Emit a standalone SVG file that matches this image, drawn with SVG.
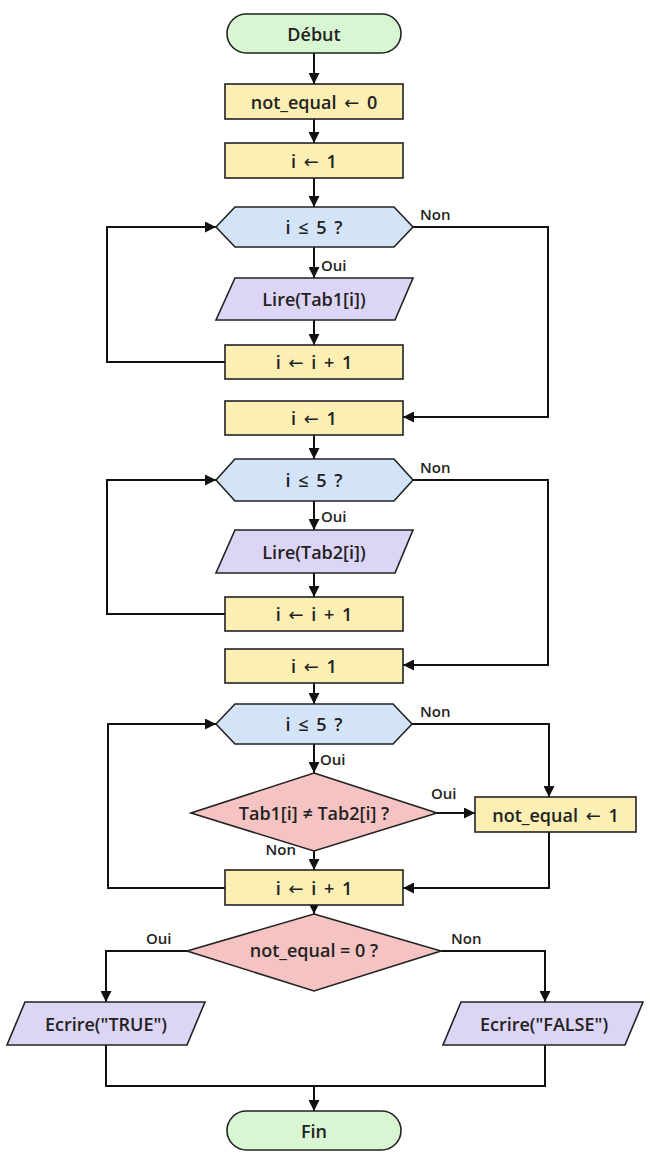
<svg xmlns="http://www.w3.org/2000/svg" width="650" height="1161" viewBox="0 0 650 1161">
<defs>
<marker id="arr" markerWidth="11" markerHeight="11" refX="11" refY="5.5" orient="auto" markerUnits="userSpaceOnUse">
<path d="M0,0 L11,5.5 L0,11 z" fill="#111"/>
</marker>
<style>
.term{fill:#d8f6d2;stroke:#222;stroke-width:1.6}
.proc{fill:#fbefb4;stroke:#222;stroke-width:1.6}
.loop{fill:#d3e4f8;stroke:#222;stroke-width:1.6}
.io{fill:#ddd5f6;stroke:#222;stroke-width:1.6}
.dec{fill:#f6c3c3;stroke:#222;stroke-width:1.6}
.t{font-family:"Open Sans","Liberation Sans",sans-serif;font-weight:600;font-size:18px;fill:#222;text-anchor:middle;dominant-baseline:central}
.w{word-spacing:3px}
.a{font-family:"DejaVu Sans",sans-serif;font-weight:normal}
.lbl{font-family:"Open Sans","Liberation Sans",sans-serif;font-weight:600;font-size:15px;fill:#222;dominant-baseline:central}
.c{fill:none;stroke:#111;stroke-width:2}
</style>
</defs>
<rect width="650" height="1161" fill="#ffffff"/>
<g id="connectors">
<path class="c" d="M314,53 V84" marker-end="url(#arr)"/>
<path class="c" d="M314,119 V143" marker-end="url(#arr)"/>
<path class="c" d="M314,178 V207" marker-end="url(#arr)"/>
<path class="c" d="M314,247 V278" marker-end="url(#arr)"/>
<path class="c" d="M314,320 V345" marker-end="url(#arr)"/>
<path class="c" d="M225,362 H107 V227 H216" marker-end="url(#arr)"/>
<path class="c" d="M413,227 H548 V417 H403" marker-end="url(#arr)"/>
<path class="c" d="M314,435 V459" marker-end="url(#arr)"/>
<path class="c" d="M314,501 V530" marker-end="url(#arr)"/>
<path class="c" d="M314,573 V597" marker-end="url(#arr)"/>
<path class="c" d="M225,614 H107 V480 H216" marker-end="url(#arr)"/>
<path class="c" d="M413,480 H548 V665 H403" marker-end="url(#arr)"/>
<path class="c" d="M314,683 V704" marker-end="url(#arr)"/>
<path class="c" d="M314,744 V773" marker-end="url(#arr)"/>
<path class="c" d="M412,724 H549 V797" marker-end="url(#arr)"/>
<path class="c" d="M437,813 H475" marker-end="url(#arr)"/>
<path class="c" d="M314,851 V870" marker-end="url(#arr)"/>
<path class="c" d="M549,832 V888 H403" marker-end="url(#arr)"/>
<path class="c" d="M225,888 H108 V724 H216" marker-end="url(#arr)"/>
<path class="c" d="M314,905 V914" marker-end="url(#arr)"/>
<path class="c" d="M187,951 H106 V1002" marker-end="url(#arr)"/>
<path class="c" d="M441,951 H545 V1002" marker-end="url(#arr)"/>
<path class="c" d="M106,1045 V1086 H545 V1045"/>
<path class="c" d="M314,1086 V1111" marker-end="url(#arr)"/>
<text class="lbl" x="420" y="214">Non</text>
<text class="lbl" x="321" y="265">Oui</text>
<text class="lbl" x="420" y="467">Non</text>
<text class="lbl" x="321" y="516">Oui</text>
<text class="lbl" x="420" y="711">Non</text>
<text class="lbl" x="320" y="759">Oui</text>
<text class="lbl" x="431" y="793">Oui</text>
<text class="lbl" x="296" y="849" text-anchor="end">Non</text>
<text class="lbl" x="146" y="938">Oui</text>
<text class="lbl" x="451" y="938">Non</text>
</g>
<g id="debut"><rect class="term" x="227" y="14" width="174" height="39" rx="19.5"/><text class="t" x="314" y="33.5">Début</text></g>
<g id="init_ne"><rect class="proc" x="225" y="84" width="178" height="35"/><text class="t w" x="314" y="101.5">not_equal <tspan class="a">←</tspan> 0</text></g>
<g id="init_i1"><rect class="proc" x="225" y="143" width="178" height="35"/><text class="t w" x="314" y="160.5">i <tspan class="a">←</tspan> 1</text></g>
<g id="loop1"><polygon class="loop" points="216,227 235,207 394,207 413,227 394,247 235,247"/><text class="t w" x="314" y="227">i ≤ 5 ?</text></g>
<g id="read1"><polygon class="io" points="235,278 413,278 395,320 216,320"/><text class="t" x="314" y="299">Lire(Tab1[i])</text></g>
<g id="inc1"><rect class="proc" x="225" y="345" width="178" height="34"/><text class="t w" x="314" y="362">i <tspan class="a">←</tspan> i + 1</text></g>
<g id="init_i2"><rect class="proc" x="225" y="401" width="178" height="34"/><text class="t w" x="314" y="418">i <tspan class="a">←</tspan> 1</text></g>
<g id="loop2"><polygon class="loop" points="216,480 235,459 394,459 413,480 394,501 235,501"/><text class="t w" x="314" y="480">i ≤ 5 ?</text></g>
<g id="read2"><polygon class="io" points="235,530 413,530 395,573 216,573"/><text class="t" x="314" y="551.5">Lire(Tab2[i])</text></g>
<g id="inc2"><rect class="proc" x="225" y="597" width="178" height="34"/><text class="t w" x="314" y="614">i <tspan class="a">←</tspan> i + 1</text></g>
<g id="init_i3"><rect class="proc" x="225" y="649" width="178" height="34"/><text class="t w" x="314" y="666">i <tspan class="a">←</tspan> 1</text></g>
<g id="loop3"><polygon class="loop" points="216,724 235,704 393,704 412,724 393,744 235,744"/><text class="t w" x="314" y="724">i ≤ 5 ?</text></g>
<g id="compare"><polygon class="dec" points="314,773 437,813 314,851 191,813"/><text class="t" x="314" y="813">Tab1[i] ≠ Tab2[i] ?</text></g>
<g id="set_ne"><rect class="proc" x="475" y="797" width="161" height="35"/><text class="t w" x="555.5" y="814.5">not_equal <tspan class="a">←</tspan> 1</text></g>
<g id="inc3"><rect class="proc" x="225" y="870" width="178" height="35"/><text class="t w" x="314" y="887.5">i <tspan class="a">←</tspan> i + 1</text></g>
<g id="test_ne"><polygon class="dec" points="314,914 441,951 314,991 187,951"/><text class="t" x="314" y="950">not_equal = 0 ?</text></g>
<g id="write_true"><polygon class="io" points="25,1002 205,1002 187,1045 7,1045"/><text class="t" x="106" y="1023.5">Ecrire("TRUE")</text></g>
<g id="write_false"><polygon class="io" points="461,1002 643,1002 625,1045 443,1045"/><text class="t" x="544" y="1023.5">Ecrire("FALSE")</text></g>
<g id="fin"><rect class="term" x="227" y="1111" width="174" height="39" rx="19.5"/><text class="t" x="314" y="1130.5">Fin</text></g>
</svg>
